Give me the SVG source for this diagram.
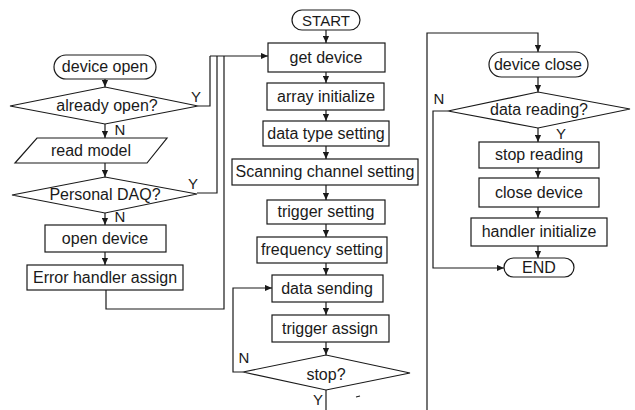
<svg xmlns="http://www.w3.org/2000/svg" width="635" height="410" viewBox="0 0 635 410">
  <defs>
    <marker id="arr" viewBox="0 0 8 8" refX="8" refY="4" markerWidth="7" markerHeight="7" markerUnits="userSpaceOnUse" orient="auto">
      <path d="M0,0.5 L8,4 L0,7.5 Z" fill="#1a1a1a"/>
    </marker>
  </defs>
  <style>
    .shape { fill: #ffffff; stroke: #1a1a1a; stroke-width: 1.2; }
    .edge { fill: none; stroke: #1a1a1a; stroke-width: 1.2; }
    .flow { fill: none; stroke: #1a1a1a; stroke-width: 1.2; marker-end: url(#arr); }
    text { font-family: "Liberation Sans", Arial, sans-serif; font-size: 16px; fill: #1a1a1a; text-anchor: middle; }
    .lbl { font-size: 15px; }
  </style>
  <rect width="635" height="410" fill="#ffffff"/>

  <!-- connectors -->
  <g id="connectors">
    <!-- left column -->
    <line class="flow" x1="105" y1="79" x2="105" y2="87"/>
    <line class="flow" x1="105" y1="124" x2="105" y2="138"/>
    <line class="flow" x1="105" y1="163" x2="105" y2="177"/>
    <line class="flow" x1="105" y1="213" x2="105" y2="225"/>
    <line class="flow" x1="105" y1="252" x2="105" y2="265"/>
    <!-- branches into get device -->
    <polyline class="edge" points="198,106 210,106 210,56"/>
    <polyline class="edge" points="197,193 217,193 217,56"/>
    <polyline class="edge" points="106,290 106,309 224,309 224,56"/>
    <line class="flow" x1="210" y1="56" x2="268" y2="56"/>

    <!-- middle column -->
    <line class="flow" x1="326" y1="30" x2="326" y2="43"/>
    <line class="flow" x1="326" y1="72" x2="326" y2="83"/>
    <line class="flow" x1="326" y1="110" x2="326" y2="121"/>
    <line class="flow" x1="326" y1="146" x2="326" y2="159"/>
    <line class="flow" x1="326" y1="185" x2="326" y2="200"/>
    <line class="flow" x1="326" y1="224" x2="326" y2="237"/>
    <line class="flow" x1="326" y1="263" x2="326" y2="275"/>
    <line class="flow" x1="326" y1="302" x2="326" y2="315"/>
    <line class="flow" x1="326" y1="342" x2="326" y2="355"/>
    <polyline class="flow" points="243,372 233,372 233,288 272,288"/>
    <line class="edge" x1="326" y1="390" x2="326" y2="410"/>
    <line class="edge" x1="356" y1="397" x2="360" y2="396"/>

    <!-- right column -->
    <polyline class="flow" points="427,410 427,33 538,33 538,52"/>
    <line class="flow" x1="538" y1="77" x2="538" y2="92"/>
    <line class="flow" x1="538" y1="128" x2="538" y2="142"/>
    <line class="flow" x1="538" y1="168" x2="538" y2="178"/>
    <line class="flow" x1="538" y1="207" x2="538" y2="218"/>
    <line class="flow" x1="538" y1="246" x2="538" y2="258"/>
    <polyline class="flow" points="448,111 433,111 433,268 504,268"/>

    <!-- branch labels -->
    <text class="lbl" x="120" y="135">N</text>
    <text class="lbl" x="196" y="102">Y</text>
    <text class="lbl" x="193" y="189">Y</text>
    <text class="lbl" x="120" y="222">N</text>
    <text class="lbl" x="244" y="363">N</text>
    <text class="lbl" x="318" y="405">Y</text>
    <text class="lbl" x="439" y="104">N</text>
    <text class="lbl" x="561" y="139">Y</text>
  </g>

  <!-- left column: device open -->
  <g id="device-open">
    <rect class="shape" x="54" y="55" width="102" height="24" rx="12"/>
    <text x="105" y="72">device open</text>
  </g>
  <g id="already-open">
    <polygon class="shape" points="10,106 105,87 198,106 105,124"/>
    <text x="107" y="111">already open?</text>
  </g>
  <g id="read-model">
    <polygon class="shape" points="37,138 167,138 147,163 15,163"/>
    <text x="91" y="156">read model</text>
  </g>
  <g id="personal-daq">
    <polygon class="shape" points="12,195 105,177 197,194 105,213"/>
    <text x="105" y="200">Personal DAQ?</text>
  </g>
  <g id="open-device">
    <rect class="shape" x="45" y="225" width="121" height="27"/>
    <text x="105" y="244">open device</text>
  </g>
  <g id="error-handler-assign">
    <rect class="shape" x="27" y="265" width="156" height="25"/>
    <text x="105" y="283">Error handler assign</text>
  </g>

  <!-- middle column: main sequence -->
  <g id="start">
    <rect class="shape" x="292" y="10" width="68" height="20" rx="10"/>
    <text x="326" y="26" style="font-size:15px">START</text>
  </g>
  <g id="get-device">
    <rect class="shape" x="268" y="43" width="117" height="29"/>
    <text x="326" y="63">get device</text>
  </g>
  <g id="array-initialize">
    <rect class="shape" x="267" y="83" width="117" height="27"/>
    <text x="326" y="102">array initialize</text>
  </g>
  <g id="data-type-setting">
    <rect class="shape" x="263" y="121" width="126" height="25"/>
    <text x="326" y="139">data type setting</text>
  </g>
  <g id="scanning-channel-setting">
    <rect class="shape" x="232" y="159" width="186" height="26"/>
    <text x="325" y="177">Scanning channel setting</text>
  </g>
  <g id="trigger-setting">
    <rect class="shape" x="267" y="200" width="118" height="24"/>
    <text x="326" y="217">trigger setting</text>
  </g>
  <g id="frequency-setting">
    <rect class="shape" x="257" y="237" width="130" height="26"/>
    <text x="322" y="255">frequency setting</text>
  </g>
  <g id="data-sending">
    <rect class="shape" x="272" y="275" width="111" height="27"/>
    <text x="327" y="294">data sending</text>
  </g>
  <g id="trigger-assign">
    <rect class="shape" x="272" y="315" width="117" height="27"/>
    <text x="330" y="334">trigger assign</text>
  </g>
  <g id="stop">
    <polygon class="shape" points="243,372 326,355 410,373 326,390"/>
    <text x="326" y="380">stop?</text>
  </g>

  <!-- right column: device close -->
  <g id="device-close">
    <rect class="shape" x="489" y="52" width="99" height="25" rx="12.5"/>
    <text x="538" y="70">device close</text>
  </g>
  <g id="data-reading">
    <polygon class="shape" points="448,111 538,92 630,109 538,128"/>
    <text x="539" y="115">data reading?</text>
  </g>
  <g id="stop-reading">
    <rect class="shape" x="479" y="142" width="120" height="26"/>
    <text x="539" y="160">stop reading</text>
  </g>
  <g id="close-device">
    <rect class="shape" x="479" y="178" width="120" height="29"/>
    <text x="539" y="198">close device</text>
  </g>
  <g id="handler-initialize">
    <rect class="shape" x="471" y="218" width="136" height="28"/>
    <text x="539" y="237">handler initialize</text>
  </g>
  <g id="end">
    <rect class="shape" x="504" y="258" width="70" height="19" rx="9.5"/>
    <text x="539" y="273">END</text>
  </g>
</svg>
